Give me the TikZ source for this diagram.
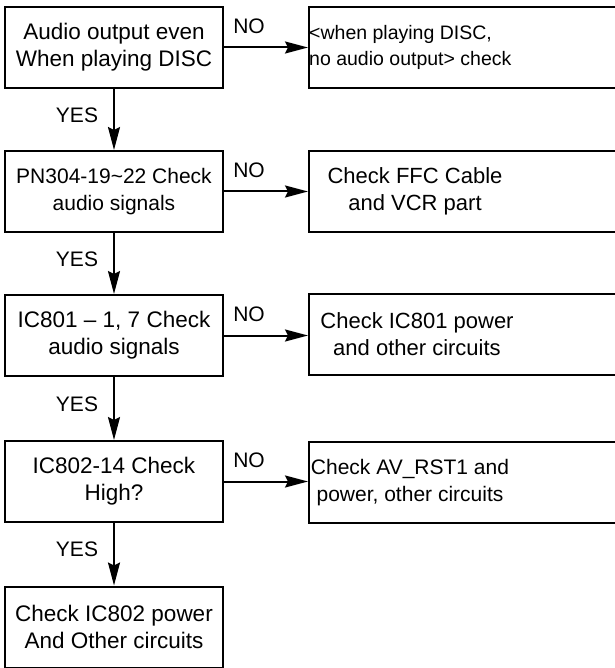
\documentclass[tikz,border=0pt]{standalone}
\usepackage{fontspec}
\setmainfont{Liberation Sans}
\usetikzlibrary{arrows.meta}
\begin{document}
\begin{tikzpicture}[x=1pt,y=-1pt,
  box/.style={draw, line width=2pt, minimum width=218pt, minimum height=81pt,
    inner sep=0pt, align=center, font=\fontsize{22.5}{27}\selectfont},
  rbox/.style={draw, line width=2pt, minimum width=340pt, minimum height=81pt,
    anchor=west, inner sep=0pt},
  rtext/.style={align=center, inner sep=0pt, font=\fontsize{22}{27}\selectfont},
  lbl/.style={font=\fontsize{21}{24}\selectfont, inner sep=0pt},
  arr/.style={line width=2pt, -{Stealth[length=23pt,width=12pt,inset=3pt]}}]
\useasboundingbox (0,0) rectangle (614,668);
% left column
\node[box] (a1) at (114,47.5) {Audio output even\\When playing DISC};
\node[box, font=\fontsize{21}{27}\selectfont] (a2) at (114,191.5) {PN304-19\char`~22 Check\\audio signals};
\node[box] (a3) at (114,335.5) {IC801 -- 1, 7 Check\\audio signals};
\node[box] (a4) at (114,481.5) {IC802-14 Check\\High?};
\node[box] (a5) at (114,627) {Check IC802 power\\And Other circuits};
% right column
\node[rbox] (b1) at (308,47.5) {};
\node[rtext, anchor=west, align=left, font=\fontsize{19.5}{26}\selectfont] (t1) at (309,47.5) {<when playing DISC,\\no audio output> check};
\node[rbox] (b2) at (308,191.5) {};
\node[rtext] (t2) at (415,191.5) {Check FFC Cable\\and VCR part};
\node[rbox] (b3) at (308,334) {};
\node[rtext] (t3) at (417,334) {Check IC801 power\\and other circuits};
\node[rbox] (b4) at (308,482.5) {};
\node[rtext, font=\fontsize{21}{27}\selectfont] (t4) at (410,482.5) {Check AV\_RST1 and\\power, other circuits};
% connectors
\draw[arr] (a1.east) -- (b1.west);
\draw[arr] (a2.east) -- (b2.west);
\draw[arr] (a3.east) -- (b3.west |- a3.east);
\draw[arr] (a4.east) -- (b4.west |- a4.east);
\draw[arr] (a1) -- (a2);
\draw[arr] (a2) -- (a3);
\draw[arr] (a3) -- (a4);
\draw[arr] (a4) -- (a5);
% labels
\node[lbl] (n1) at (249,26) {NO};
\node[lbl] (n2) at (249,170) {NO};
\node[lbl] (n3) at (249,314) {NO};
\node[lbl] (n4) at (249,460) {NO};
\node[lbl] (y1) at (77,115) {YES};
\node[lbl] (y2) at (77,259) {YES};
\node[lbl] (y3) at (77,404) {YES};
\node[lbl] (y4) at (77,549) {YES};
\end{tikzpicture}
\end{document}
